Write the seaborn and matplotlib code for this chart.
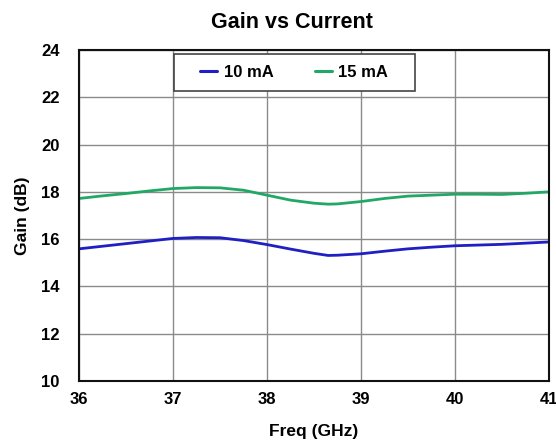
import matplotlib
matplotlib.use("Agg")
import matplotlib.pyplot as plt
import seaborn as sns
import pandas as pd
from matplotlib.patches import Rectangle

freq = [36, 36.25, 36.5, 36.75, 37, 37.25, 37.5, 37.75, 38, 38.25, 38.5, 38.65,
        38.75, 39, 39.25, 39.5, 39.75, 40, 40.25, 40.5, 40.75, 41]
gain_10ma = [15.59, 15.70, 15.81, 15.92, 16.03, 16.07, 16.06, 15.94, 15.77, 15.58, 15.40, 15.31,
             15.32, 15.38, 15.49, 15.59, 15.66, 15.72, 15.75, 15.78, 15.83, 15.88]
gain_15ma = [17.72, 17.83, 17.93, 18.04, 18.14, 18.18, 18.17, 18.07, 17.86, 17.65, 17.52, 17.48,
             17.49, 17.59, 17.72, 17.82, 17.86, 17.90, 17.90, 17.89, 17.94, 18.00]
series_names = ["10 mA", "15 mA"]
x_ticks = [36, 37, 38, 39, 40, 41]
y_ticks = [10, 12, 14, 16, 18, 20, 22, 24]

df = pd.concat([
    pd.DataFrame({"Freq": freq, "Gain": gain_10ma, "Series": series_names[0]}),
    pd.DataFrame({"Freq": freq, "Gain": gain_15ma, "Series": series_names[1]}),
])

sns.set_theme(style="white")
plt.rcParams["font.family"] = ["Liberation Sans", "DejaVu Sans"]
plt.rcParams["text.color"] = "black"
plt.rcParams["axes.labelcolor"] = "black"
plt.rcParams["xtick.color"] = "black"
plt.rcParams["ytick.color"] = "black"

fig = plt.figure(figsize=(5.56, 4.45), dpi=100)
ax = fig.add_axes([79/556, 1 - 381/445, 470/556, 331/445])

palette = {"10 mA": "#1f1fc4", "15 mA": "#22a866"}
sns.lineplot(data=df, x="Freq", y="Gain", hue="Series", palette=palette,
             linewidth=2.0, ax=ax, legend=True)

ax.set_xlim(36, 41)
ax.set_ylim(10, 24)
ax.set_xticks(x_ticks)
ax.set_yticks(y_ticks)
ax.set_xticklabels([str(t) for t in x_ticks], fontsize=12, fontweight="bold")
ax.set_yticklabels([str(t) for t in y_ticks], fontsize=12, fontweight="bold")
ax.tick_params(axis="x", pad=8, length=0)
ax.tick_params(axis="y", pad=14, length=0)
ax.grid(True, color="#8a8a8a", linewidth=1.0)
for s in ax.spines.values():
    s.set_color("#111111")
    s.set_linewidth(1.5)

ax.set_xlabel("Freq (GHz)", fontsize=12.5, fontweight="bold", labelpad=12)
ax.set_ylabel("Gain (dB)", fontsize=12.5, fontweight="bold", labelpad=8)

# legend
handles, labels = ax.get_legend_handles_labels()
for h in handles:
    h.set_linewidth(2.2)
leg = ax.legend(handles, labels, loc="center", bbox_to_anchor=(0.458, 0.932),
                ncol=2, frameon=False, handlelength=1.0, handletextpad=0.4,
                columnspacing=2.5, prop={"size": 12, "weight": "bold"})
rect = Rectangle(((174 - 79) / 470, (381 - 91) / 331), 241 / 470, 37 / 331,
                 transform=ax.transAxes, facecolor="white", edgecolor="#444444",
                 linewidth=1.2, zorder=4)
ax.add_patch(rect)
leg.set_zorder(5)

fig.text(292/556, 1 - 22/445, "Gain vs Current", ha="center", va="center",
         fontsize=15.5, fontweight="bold")

fig.savefig("out.png", dpi=100, facecolor="white")
